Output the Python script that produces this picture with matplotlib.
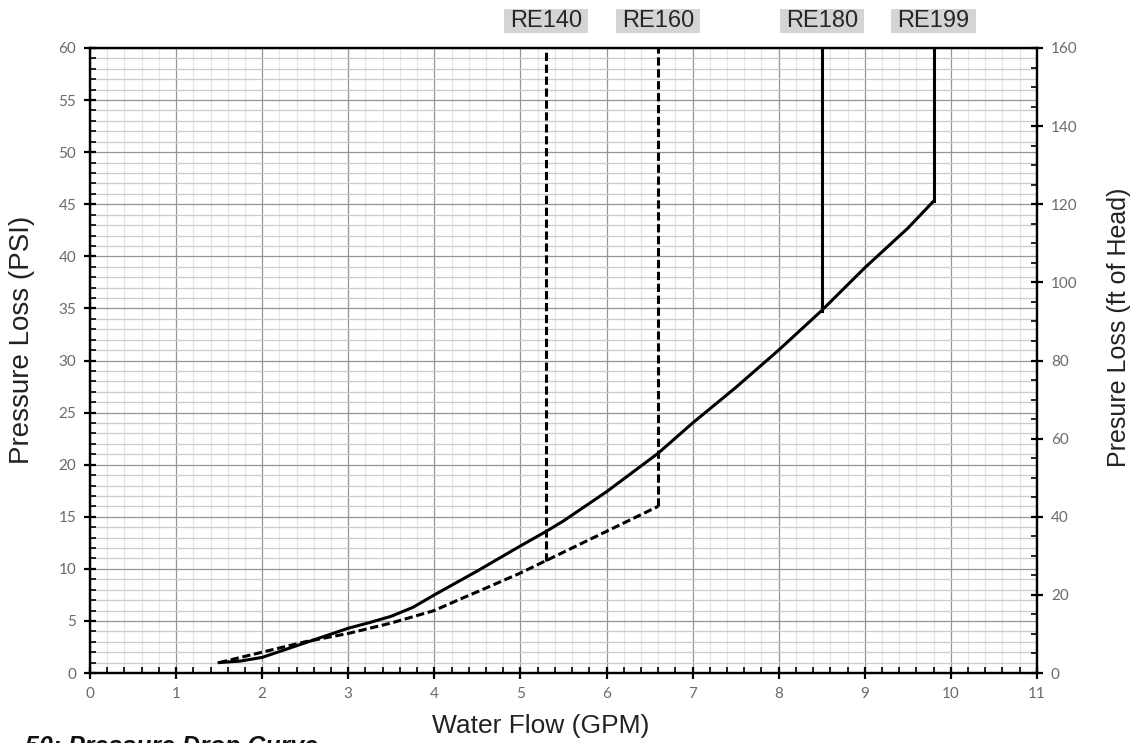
import matplotlib
matplotlib.use("Agg")
import matplotlib.pyplot as plt
from matplotlib.patches import Rectangle
from matplotlib.ticker import MultipleLocator
from matplotlib.transforms import blended_transform_factory

plt.rcParams['font.family'] = ['Liberation Sans', 'DejaVu Sans']

# main pressure-drop curves (GPM -> PSI)
solid_x = [1.5, 1.75, 2.0, 2.5, 3.0, 3.25, 3.5, 3.75, 4.0, 4.5, 5.0, 5.3, 5.5, 6.0, 6.6, 7.0, 7.5, 8.0, 8.5, 9.0, 9.5, 9.8]
solid_y = [1.0, 1.15, 1.5, 2.9, 4.3, 4.85, 5.45, 6.3, 7.5, 9.8, 12.2, 13.6, 14.6, 17.4, 21.1, 24.0, 27.4, 31.0, 34.8, 38.9, 42.7, 45.3]

dash_x = [1.5, 2.0, 2.5, 3.0, 3.5, 4.0, 4.3, 4.5, 5.0, 5.3, 6.0, 6.6]
dash_y = [1.0, 2.0, 3.0, 3.8, 4.8, 6.0, 7.1, 7.8, 9.6, 10.8, 13.6, 16.0]

# model cut-off lines: name, flow, bottom PSI, line style
models = ['RE140', 'RE160', 'RE180', 'RE199']
model_flow = [5.3, 6.6, 8.5, 9.8]
model_bottom = [10.8, 16.0, 34.8, 45.3]
model_style = ['--', '--', '-', '-']

x_max = 11
psi_max = 60
ft_max = 160

W, H = 1134, 743
fig = plt.figure(figsize=(W / 100, H / 100), dpi=100)
ax = fig.add_axes([0.0794, 0.0942, 0.835, 0.8412])

ax.set_xlim(0, x_max)
ax.set_ylim(0, psi_max)
ax.xaxis.set_major_locator(MultipleLocator(1))
ax.xaxis.set_minor_locator(MultipleLocator(0.2))
ax.yaxis.set_major_locator(MultipleLocator(5))
ax.yaxis.set_minor_locator(MultipleLocator(1))

ax.grid(which='major', axis='both', color='#959595', lw=0.9)
ax.grid(which='minor', axis='x', color='#e6e6e6', lw=0.9)
ax.grid(which='minor', axis='y', color='#cccccc', lw=0.9)
ax.set_axisbelow(True)

dash = (0, (2.7, 1.2))
ax.plot(solid_x, solid_y, color='black', lw=2.2, ls='-')
ax.plot(dash_x, dash_y, color='black', lw=2.2, ls=dash)

box_tr = blended_transform_factory(ax.transData, fig.transFigure)
for name, fx, fb, st in zip(models, model_flow, model_bottom, model_style):
    ax.plot([fx, fx], [fb, psi_max], color='black', lw=2.2,
            ls=dash if st == '--' else '-')
    ax.add_patch(Rectangle((fx - 0.49, 1 - 33 / H), 0.98, 24 / H, transform=box_tr,
                           facecolor='#d4d4d4', edgecolor='none', clip_on=False))
    ax.text(fx, 1 - 21 / H, name, transform=box_tr, ha='center', va='center',
            fontsize=17, color='#262626')

for s in ax.spines.values():
    s.set_linewidth(1.6)
    s.set_color('black')

ax.tick_params(which='major', direction='inout', length=8, width=1.6, color='black', pad=6,
               labelsize=11, labelcolor='#6a6a6a')
ax.tick_params(which='minor', direction='in', length=4, width=1.2, color='black')
for lab in ax.get_xticklabels() + ax.get_yticklabels():
    lab.set_family(['Lato', 'DejaVu Sans'])

ax.set_xlabel('Water Flow (GPM)', fontsize=19, color='#222222')
ax.xaxis.set_label_coords(0.476, -0.066)

ax2 = ax.twinx()
ax2.set_ylim(0, ft_max)
ax2.yaxis.set_major_locator(MultipleLocator(20))
ax2.yaxis.set_minor_locator(MultipleLocator(5))
ax2.tick_params(which='major', direction='inout', length=8, width=1.6, color='black', pad=6,
                labelsize=11, labelcolor='#6a6a6a')
ax2.tick_params(which='minor', direction='in', length=4, width=1.2, color='black')
for lab in ax2.get_yticklabels():
    lab.set_family(['Lato', 'DejaVu Sans'])
for s in ax2.spines.values():
    s.set_linewidth(1.6)

fig.text(22 / W, 1 - 340 / H, 'Pressure Loss (PSI)', rotation=90, fontsize=20,
         color='#222222', ha='center', va='center')
fig.text(1119 / W, 1 - 327 / H, 'Presure Loss (ft of Head)', rotation=90, fontsize=18,
         color='#222222', ha='center', va='center')

fig.text(0.022, -0.015, '50: Pressure Drop Curve', fontsize=18, fontweight='bold',
         fontstyle='italic', va='baseline', ha='left', color='#111111')

fig.savefig('out.png', dpi=100)
